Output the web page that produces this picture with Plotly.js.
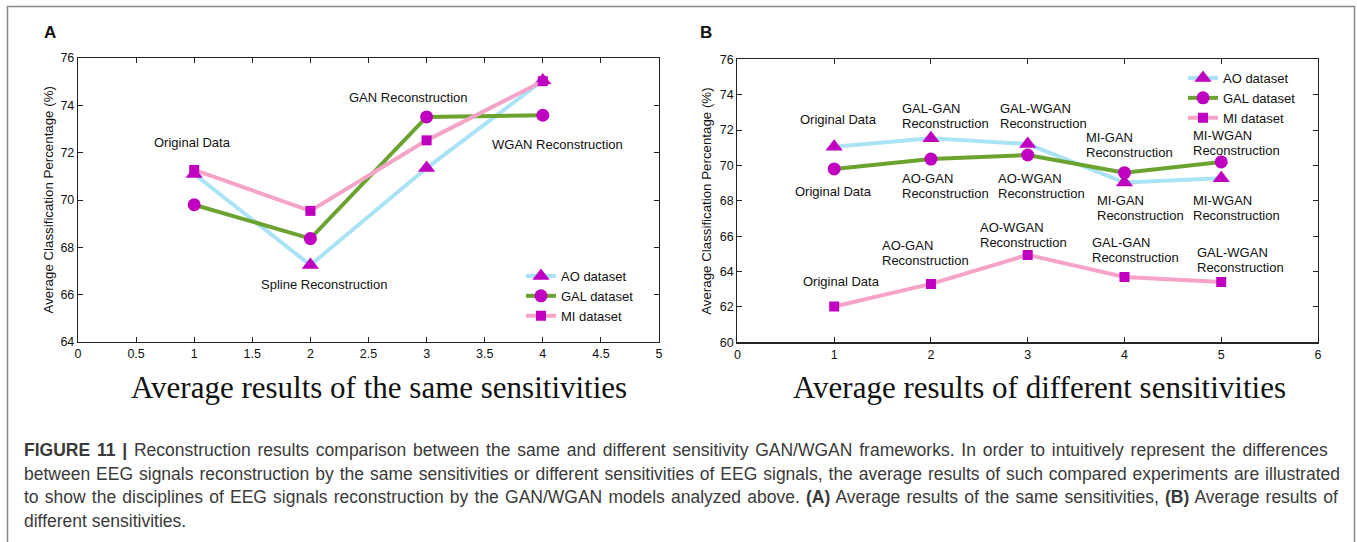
<!DOCTYPE html>
<html>
<head>
<meta charset="utf-8">
<script src="https://cdn.plot.ly/plotly-3.0.1.min.js"></script>
<style>html,body{margin:0;padding:0;background:#fff;}#chart{width:1357px;height:542px;}</style>
</head>
<body>
<div id="chart"></div>
<script>
// ---------- DATA ----------
const seriesNames = ['AO dataset', 'GAL dataset', 'MI dataset'];

// Panel A: average results of the same sensitivities
const xA = [1, 2, 3, 4];
const aoA  = [71.1, 67.25, 71.35, 75.05];
const galA = [69.8, 68.37, 73.51, 73.58];
const miA  = [71.27, 69.54, 72.52, 75.02];

// Panel B: average results of different sensitivities
const xB = [1, 2, 3, 4, 5];
const aoB  = [71.06, 71.53, 71.21, 69.03, 69.27];
const galB = [69.8, 70.36, 70.59, 69.59, 70.2];
const miB  = [62.02, 63.3, 64.94, 63.69, 63.41];

// Text labels
const labelsA = ['Original Data', 'Spline Reconstruction', 'GAN Reconstruction', 'WGAN Reconstruction'];
const labelsBTop  = ['Original Data', 'GAL-GAN|Reconstruction', 'GAL-WGAN|Reconstruction', 'MI-GAN|Reconstruction', 'MI-WGAN|Reconstruction'];
const labelsBMid  = ['Original Data', 'AO-GAN|Reconstruction', 'AO-WGAN|Reconstruction', 'MI-GAN|Reconstruction', 'MI-WGAN|Reconstruction'];
const labelsBLow  = ['Original Data', 'AO-GAN|Reconstruction', 'AO-WGAN|Reconstruction', 'GAL-GAN|Reconstruction', 'GAL-WGAN|Reconstruction'];

const titleA = 'Average results of the same sensitivities';
const titleB = 'Average results of different sensitivities';
const yTitle = 'Average Classification Percentage (%)';
const captionLines = [
  '<b>FIGURE 11 |</b> Reconstruction results comparison between the same and different sensitivity GAN/WGAN frameworks. In order to intuitively represent the differences',
  'between EEG signals reconstruction by the same sensitivities or different sensitivities of EEG signals, the average results of such compared experiments are illustrated',
  'to show the disciplines of EEG signals reconstruction by the GAN/WGAN models analyzed above. <b>(A)</b> Average results of the same sensitivities, <b>(B)</b> Average results of',
  'different sensitivities.'
];

// ---------- STYLE / LAYOUT ----------
const W = 1357, H = 542;
const px = v => v / W, py = v => 1 - v / H;
const FONT = 'Arial, "Liberation Sans", sans-serif';
const SERIF = '"Times New Roman", "Liberation Serif", serif';
const markerColor = '#c000c0';
const lineColors = ['#a9e3f5', '#6aa32f', '#f5a3c7'];
const symbols = ['triangle-up', 'circle', 'square'];
const msizes = [15, 13, 10];

function mk(x, y, i, ax, lg) {
  return {
    x: x, y: y, name: seriesNames[i], type: 'scatter', mode: 'lines+markers',
    xaxis: ax[0], yaxis: ax[1], legend: lg, showlegend: true,
    line: {color: lineColors[i], width: 4},
    marker: {symbol: symbols[i], size: msizes[i], color: markerColor}
  };
}
const traces = [
  mk(xA, aoA, 0, ['x', 'y'], 'legend'),
  mk(xA, galA, 1, ['x', 'y'], 'legend'),
  mk(xA, miA, 2, ['x', 'y'], 'legend'),
  mk(xB, aoB, 0, ['x2', 'y2'], 'legend2'),
  mk(xB, galB, 1, ['x2', 'y2'], 'legend2'),
  mk(xB, miB, 2, ['x2', 'y2'], 'legend2')
];

const axBase = {
  showline: true, linecolor: '#222', linewidth: 1.2, mirror: 'allticks',
  ticks: 'inside', ticklen: 5, tickcolor: '#222', tickwidth: 1,
  showgrid: false, zeroline: false, fixedrange: true,
  tickfont: {family: FONT, size: 12.5, color: '#111'}
};

const annFont = {family: FONT, size: 13, color: '#111'};
const annotations = [];
function addLabel(text, x, y, xr, yr) {
  const parts = text.split('|');
  parts.forEach((t, k) => annotations.push({
    text: t, x: x, y: y, xref: xr, yref: yr, xanchor: 'left', yanchor: 'middle',
    yshift: -15 * k, showarrow: false, font: annFont
  }));
}
// Panel A label positions (data coords: left edge x, centre y)
const posA = [[0.635, 72.44], [1.56, 66.43], [2.314, 74.32], [3.546, 72.34]];
labelsA.forEach((t, i) => addLabel(t, posA[i][0], posA[i][1], 'x', 'y'));
// Panel B label positions
const posBTop = [[0.63, 72.57], [1.68, 73.23], [2.69, 73.23], [3.58, 71.57], [4.69, 71.72]];
const posBMid = [[0.57, 68.52], [1.68, 69.27], [2.67, 69.27], [3.70, 68.01], [4.69, 68.01]];
const posBLow = [[0.66, 63.43], [1.47, 65.46], [2.49, 66.48], [3.64, 65.63], [4.73, 65.07]];
labelsBTop.forEach((t, i) => addLabel(t, posBTop[i][0], posBTop[i][1], 'x2', 'y2'));
labelsBMid.forEach((t, i) => addLabel(t, posBMid[i][0], posBMid[i][1], 'x2', 'y2'));
labelsBLow.forEach((t, i) => addLabel(t, posBLow[i][0], posBLow[i][1], 'x2', 'y2'));

function paperText(text, x, y, font, extra) {
  annotations.push(Object.assign({
    text: text, x: px(x), y: py(y), xref: 'paper', yref: 'paper',
    xanchor: 'center', yanchor: 'middle', showarrow: false, font: font
  }, extra || {}));
  return annotations.length - 1;
}
// panel letters
paperText('<b>A</b>', 49.5, 33, {family: FONT, size: 17, color: '#111'});
paperText('<b>B</b>', 706, 33, {family: FONT, size: 17, color: '#111'});
// y titles
paperText(yTitle, 47.5, 200, {family: FONT, size: 13.3, color: '#111'}, {textangle: -90});
paperText(yTitle, 706.8, 201, {family: FONT, size: 13.3, color: '#111'}, {textangle: -90});
// bottom titles
paperText(titleA, 379, 387, {family: SERIF, size: 31, color: '#111'});
paperText(titleB, 1039, 387, {family: SERIF, size: 31, color: '#111'});
// caption (justified lines end at these x positions)
const captionRight = [1328, 1340, 1338, null];
const captionIdx = captionLines.map((t, i) => paperText(t, 22, 450 + 23.5 * i,
  {family: FONT, size: 17.5, color: '#3a3a3a'}, {xanchor: 'left'}));

const legendFont = {family: FONT, size: 13, color: '#111'};
const layout = {
  width: W, height: H, margin: {l: 0, r: 0, t: 0, b: 0},
  paper_bgcolor: '#fff', plot_bgcolor: '#fff',
  xaxis: Object.assign({}, axBase, {domain: [px(78), px(659)], range: [0, 5], dtick: 0.5, tick0: 0, anchor: 'y'}),
  yaxis: Object.assign({}, axBase, {domain: [py(342), py(58)], range: [64, 76], dtick: 2, anchor: 'x'}),
  xaxis2: Object.assign({}, axBase, {domain: [px(737.4), px(1318)], range: [0, 6], dtick: 1, tick0: 0, anchor: 'y2'}),
  yaxis2: Object.assign({}, axBase, {domain: [py(342.3), py(59.3)], range: [60, 76], dtick: 2, anchor: 'x2'}),
  legend: {x: px(521), y: py(261), xanchor: 'left', yanchor: 'top', bgcolor: 'rgba(0,0,0,0)', borderwidth: 0, font: legendFont, tracegroupgap: 0},
  legend2: {x: px(1183), y: py(63), xanchor: 'left', yanchor: 'top', bgcolor: 'rgba(0,0,0,0)', borderwidth: 0, font: legendFont, tracegroupgap: 0},
  annotations: annotations,
  shapes: [{type: 'rect', xref: 'paper', yref: 'paper', x0: px(7.5), x1: px(1354.5), y0: -0.05, y1: py(6.5), line: {color: '#8a8a8a', width: 1.5}}],
  showlegend: true
};

Plotly.newPlot('chart', traces, layout, {staticPlot: true, displayModeBar: false}).then(gd => {
  // justify the caption lines like the printed figure
  captionIdx.forEach((idx, i) => {
    if (!captionRight[i]) return;
    const el = gd.querySelector('.annotation[data-index="' + idx + '"] text');
    if (!el) return;
    const spaces = (el.textContent.match(/ /g) || []).length;
    if (!spaces) return;
    const r0 = el.getBoundingClientRect();
    const gap = captionRight[i] - r0.right;
    if (gap <= 0) return;
    el.style.wordSpacing = (gap / spaces) + 'px';
    const r1 = el.getBoundingClientRect();
    el.setAttribute('transform', 'translate(' + (r0.left - r1.left) + ',0)');
  });
});
</script>
</body>
</html>
